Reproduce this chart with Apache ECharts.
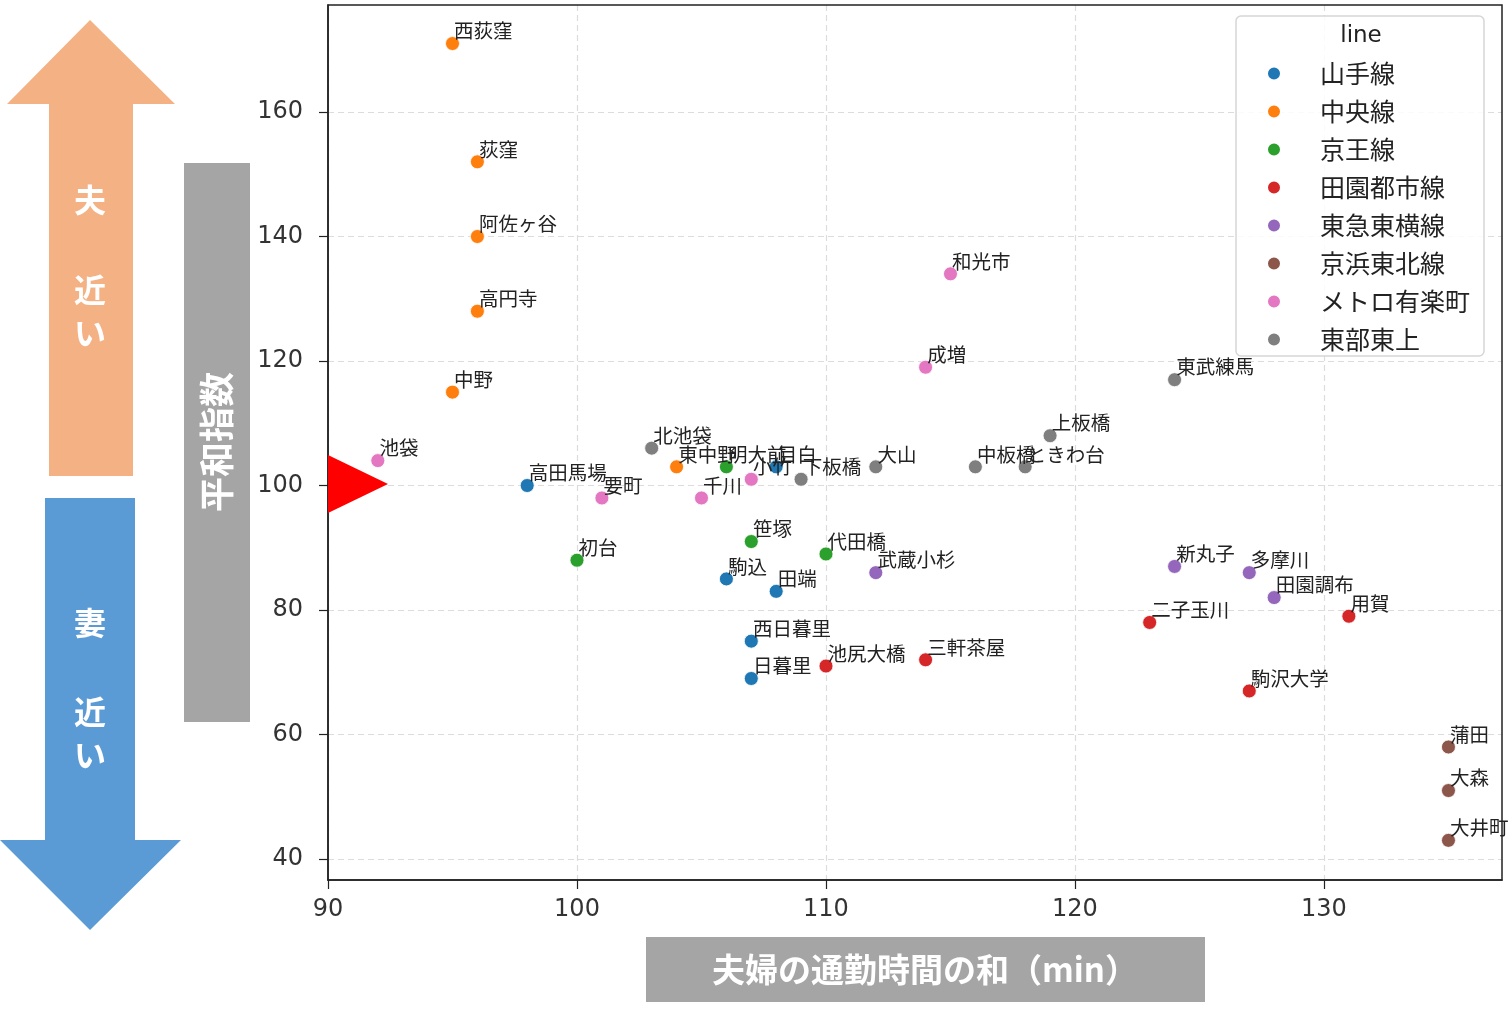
<!DOCTYPE html>
<html>
<head>
<meta charset="utf-8">
<script src="https://cdn.jsdelivr.net/npm/echarts@6/dist/echarts.min.js"></script>
<style>
  html, body { margin: 0; padding: 0; background: #fff; }
  #chart { width: 1508px; height: 1016px; }
</style>
</head>
<body>
<div id="chart"></div>
<script>
  // 路線ごとの色と名前
  const lineNames = ['山手線', '中央線', '京王線', '田園都市線', '東急東横線', '京浜東北線', 'メトロ有楽町', '東部東上']
  const lineColors = ['#1f77b4', '#ff7f0e', '#2ca02c', '#d62728', '#9467bd', '#8c564b', '#e377c2', '#7f7f7f']

  // 駅データ（駅名・路線番号・通勤時間の和・平和指数）
  const stationNames = [
    '高田馬場', '目白', '駒込', '田端', '西日暮里', '日暮里',
    '西荻窪', '荻窪', '阿佐ヶ谷', '高円寺', '中野', '東中野',
    '明大前', '初台', '笹塚', '代田橋',
    '池尻大橋', '三軒茶屋', '二子玉川', '駒沢大学', '用賀',
    '武蔵小杉', '新丸子', '多摩川', '田園調布',
    '蒲田', '大森', '大井町',
    '池袋', '要町', '千川', '小竹', '和光市', '成増',
    '北池袋', '下板橋', '大山', '中板橋', 'ときわ台', '上板橋', '東武練馬'
  ]
  const stationLine = [
    0, 0, 0, 0, 0, 0,
    1, 1, 1, 1, 1, 1,
    2, 2, 2, 2,
    3, 3, 3, 3, 3,
    4, 4, 4, 4,
    5, 5, 5,
    6, 6, 6, 6, 6, 6,
    7, 7, 7, 7, 7, 7, 7
  ]
  const commuteMin = [
    98, 108, 106, 108, 107, 107,
    95, 96, 96, 96, 95, 104,
    106, 100, 107, 110,
    110, 114, 123, 127, 131,
    112, 124, 127, 128,
    135, 135, 135,
    92, 101, 105, 107, 115, 114,
    103, 109, 112, 116, 118, 119, 124
  ]
  const peaceIndex = [
    100, 103, 85, 83, 75, 69,
    171, 152, 140, 128, 115, 103,
    103, 88, 91, 89,
    71, 72, 78, 67, 79,
    86, 87, 86, 82,
    58, 51, 43,
    104, 98, 98, 101, 134, 119,
    106, 101, 103, 103, 103, 108, 117
  ]

  // 軸の目盛り
  const xTicks = [90, 100, 110, 120, 130]
  const yTicks = [40, 60, 80, 100, 120, 140, 160]

  const chart = echarts.init(document.getElementById('chart'))

  const series = lineNames.map((name, li) => {
    const data = []
    stationNames.forEach((s, i) => {
      if (stationLine[i] === li) data.push({ value: [commuteMin[i], peaceIndex[i]], name: s })
    })
    return {
      name: name,
      type: 'scatter',
      symbolSize: 14,
      itemStyle: { color: lineColors[li], borderColor: '#fff', borderWidth: 0.8, opacity: 1 },
      label: {
        show: true,
        formatter: p => p.name,
        position: [9, -15],
        fontFamily: 'Noto Sans CJK JP',
        fontSize: 19.5,
        color: '#222'
      },
      data: data,
      z: 3
    }
  })

  const white = '#ffffff'
  const sideText = (txt, x, y) => ({
    type: 'text', x: x, y: y,
    style: { text: txt, fill: white, fontSize: 32, fontFamily: 'Noto Sans CJK JP', fontWeight: 'bold', align: 'center', verticalAlign: 'middle' }
  })

  chart.setOption({
    animation: false,
    grid: { left: 328, right: 6, top: 5, bottom: 136 },
    xAxis: {
      type: 'value',
      min: 90,
      max: 137.15,
      axisLine: { show: true, onZero: false, lineStyle: { color: '#222', width: 1.5 } },
      axisTick: { show: true, length: 9, lineStyle: { color: '#222', width: 1.2 }, customValues: xTicks },
      axisLabel: { customValues: xTicks, fontFamily: 'DejaVu Sans', fontSize: 24, color: '#333', margin: 18 },
      splitLine: { show: true, lineStyle: { color: '#dcdcdc', type: [6, 4], width: 1.2 } }
    },
    yAxis: {
      type: 'value',
      min: 36.63,
      max: 177.19,
      axisLine: { show: true, onZero: false, lineStyle: { color: '#222', width: 1.5 } },
      axisTick: { show: true, length: 9, lineStyle: { color: '#222', width: 1.2 }, customValues: yTicks },
      axisLabel: { customValues: yTicks, fontFamily: 'DejaVu Sans', fontSize: 24, color: '#333', margin: 25 },
      splitLine: { show: true, lineStyle: { color: '#dcdcdc', type: [6, 4], width: 1.2 } }
    },
    legend: {
      data: lineNames,
      orient: 'vertical',
      left: 1236,
      top: 16,
      z: 5,
      padding: [45, 14, 4, 30],
      itemWidth: 14,
      itemHeight: 14,
      itemGap: 13,
      icon: 'circle',
      backgroundColor: 'rgba(255,255,255,0.85)',
      borderColor: '#d6d6d6',
      borderWidth: 1.5,
      borderRadius: 5,
      textStyle: { fontFamily: 'Noto Sans CJK JP', fontSize: 25, color: '#222', lineHeight: 25, padding: [0, 0, 0, 34] }
    },
    graphic: [
      // 枠線（上・右）
      { type: 'rect', shape: { x: 328, y: 5, width: 1174, height: 875 }, style: { fill: 'none', stroke: '#222', lineWidth: 1.5 }, z: 1 },
      { type: 'text', x: 1361, y: 36, z: 10, style: { text: 'line', fill: '#222', fontSize: 23, fontFamily: 'DejaVu Sans', align: 'center', verticalAlign: 'middle' } },
      // 夫 矢印
      { type: 'polygon', shape: { points: [[90, 20], [175, 104], [133, 104], [133, 476], [49, 476], [49, 104], [7, 104]] }, style: { fill: '#f4b183' } },
      sideText('夫', 90, 200), sideText('近', 90, 290), sideText('い', 90, 333),
      // 妻 矢印
      { type: 'polygon', shape: { points: [[45, 498], [135, 498], [135, 840], [181, 840], [90, 930], [0, 840], [45, 840]] }, style: { fill: '#5b9bd5' } },
      sideText('妻', 90, 623), sideText('近', 90, 712), sideText('い', 90, 755),
      // 平和指数
      { type: 'rect', shape: { x: 184, y: 163, width: 66, height: 559 }, style: { fill: '#a5a5a5' } },
      { type: 'text', x: 217, y: 442, rotation: Math.PI / 2,
        style: { text: '平和指数', fill: white, fontSize: 35, fontFamily: 'Noto Sans CJK JP', fontWeight: 'bold', align: 'center', verticalAlign: 'middle' } },
      // x軸タイトル
      { type: 'rect', shape: { x: 646, y: 937, width: 559, height: 65 }, style: { fill: '#a5a5a5' } },
      { type: 'text', x: 925, y: 969,
        style: { text: '夫婦の通勤時間の和（min）', fill: white, fontSize: 33, fontFamily: 'Noto Sans CJK JP', fontWeight: 'bold', align: 'center', verticalAlign: 'middle' } },
      // 基準線 100 の赤い三角
      { type: 'polygon', z: 20, shape: { points: [[328, 455], [388, 484], [328, 513]] }, style: { fill: '#ff0000' } }
    ],
    series: series
  })
</script>
</body>
</html>
